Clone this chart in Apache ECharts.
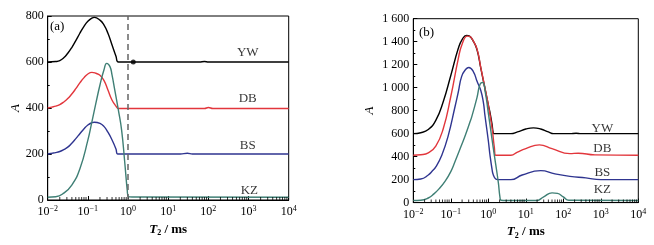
<!DOCTYPE html>
<html>
<head>
<meta charset="utf-8">
<script src="https://cdn.jsdelivr.net/npm/echarts@6/dist/echarts.min.js"></script>
<style>
  html, body { margin: 0; padding: 0; background: #fff; }
  #chart { width: 654px; height: 245px; }
</style>
</head>
<body>
<div id="chart"></div>
<script>
// panel (a): T2 (ms) vs amplitude A
const ywA = [[0.01,600],[0.0158,602],[0.02,606],[0.0251,618],[0.0316,638],[0.0398,663],[0.0501,693],[0.0631,725],[0.0794,754],[0.1,777],[0.126,791],[0.145,794],[0.2,782],[0.251,761],[0.316,725],[0.398,675],[0.501,625],[0.575,600],[1,600],[60,600],[80,602],[100,600],[10000,600]]
const dbA = [[0.01,400],[0.0126,404],[0.0158,408],[0.02,415],[0.0251,426],[0.0316,441],[0.0398,461],[0.0501,484],[0.0631,509],[0.0794,531],[0.1,548],[0.126,555],[0.158,551],[0.2,542],[0.251,520],[0.316,478],[0.398,435],[0.501,408],[0.575,398],[1,398],[80,398],[100,402],[130,398],[10000,398]]
const bsA = [[0.01,200],[0.0126,203],[0.0158,206],[0.02,211],[0.0251,219],[0.0316,230],[0.0398,247],[0.0501,267],[0.0631,288],[0.0794,309],[0.1,326],[0.126,336],[0.145,338],[0.2,333],[0.251,320],[0.316,295],[0.398,262],[0.501,222],[0.55,200],[1,200],[20,200],[30,203],[40,200],[10000,200]]
const kzA = [[0.01,12],[0.0158,14],[0.0251,30],[0.0398,65],[0.0631,135],[0.1,260],[0.126,340],[0.158,420],[0.2,500],[0.251,565],[0.295,594],[0.355,580],[0.398,545],[0.468,478],[0.575,391],[0.692,304],[0.832,160],[0.955,43],[1.02,15],[1.26,13],[10000,12]]
const dotA = [[1.35,600]]
const labelsA = [['YW',955,639],['DB',955,439],['BS',955,235],['KZ',1050,43]]

// panel (b)
const ywB = [[0.01,600],[0.0158,608],[0.0251,636],[0.0398,715],[0.0631,880],[0.1,1106],[0.158,1340],[0.2,1419],[0.263,1455],[0.316,1448],[0.398,1405],[0.501,1330],[0.631,1170],[0.794,1010],[1,850],[1.12,776],[1.26,680],[1.35,607],[1.41,600],[4,600],[6,615],[10,640],[16,650],[25,640],[40,615],[55,600],[150,600],[220,603],[300,600],[10000,600]]
const dbB = [[0.01,412],[0.0158,416],[0.0251,432],[0.0398,491],[0.0631,645],[0.1,923],[0.158,1251],[0.2,1378],[0.275,1448],[0.316,1446],[0.398,1405],[0.501,1335],[0.631,1175],[0.794,1015],[1,850],[1.26,650],[1.45,480],[1.58,412],[4,412],[6,440],[10,470],[23,502],[50,470],[150,426],[250,430],[700,415],[10000,412]]
const bsB = [[0.01,200],[0.0158,205],[0.0251,240],[0.0316,272],[0.0398,310],[0.0575,412],[0.0851,580],[0.129,832],[0.158,960],[0.195,1098],[0.251,1160],[0.302,1176],[0.398,1140],[0.501,1055],[0.631,975],[0.741,870],[0.813,760],[1,540],[1.11,412],[1.26,290],[1.35,244],[1.58,205],[1.78,200],[4,200],[8,240],[25,278],[60,250],[150,228],[400,215],[1000,200],[10000,200]]
const kzB = [[0.01,18],[0.0158,20],[0.0251,40],[0.0355,76],[0.0501,125],[0.0708,187],[0.1,270],[0.129,355],[0.178,470],[0.24,580],[0.316,690],[0.363,748],[0.501,916],[0.603,1030],[0.708,1045],[0.832,960],[1,780],[1.35,480],[1.58,330],[1.86,170],[2.04,50],[2.19,20],[3,18],[19,18],[30,50],[50,85],[70,80],[100,50],[140,20],[10000,18]]
const labelsB = [['YW',1100,641],['DB',1100,468],['BS',1100,258],['KZ',1100,109]]

// log minor ticks (2..9 in each decade)
const minorX = []
for (let k = -2; k < 4; k++) {
  for (let m = 2; m < 10; m++) minorX.push(m * Math.pow(10, k))
}

const FONT = 'Liberation Serif'
const COLORS = { yw: '#000000', db: '#e2363c', bs: '#2f3590', kz: '#3f7f75' }

function supLabel (v) {
  const e = Math.round(Math.log10(v))
  return '10{sup|' + (e < 0 ? '\u2212' + (-e) : e) + '}'
}

function xAxisOf (gridIndex) {
  return {
    type: 'log',
    gridIndex: gridIndex,
    min: 0.01,
    max: 10000,
    logBase: 10,
    axisLine: { lineStyle: { color: '#000', width: 1 } },
    axisTick: { inside: true, length: 4, lineStyle: { color: '#000' } },
    splitLine: { show: false },
    axisLabel: {
      color: '#000', fontFamily: FONT, fontSize: 12, margin: 5,
      formatter: supLabel,
      rich: { sup: { fontSize: 8, verticalAlign: 'top', padding: [0, 0, 6, 0], fontFamily: FONT, color: '#000' } }
    },
    name: '{t|T}{s|2}{m| / ms}',
    nameLocation: 'middle',
    nameGap: 17,
    nameTextStyle: {
      rich: {
        t: { fontFamily: FONT, fontSize: 13, fontWeight: 'bold', fontStyle: 'italic', color: '#000' },
        s: { fontFamily: FONT, fontSize: 8, fontWeight: 'bold', color: '#000', padding: [8, 0, 0, 0] },
        m: { fontFamily: FONT, fontSize: 13, fontWeight: 'bold', color: '#000' }
      }
    }
  }
}

function yAxisOf (gridIndex, max, gap, fmt) {
  return {
    type: 'value',
    gridIndex: gridIndex,
    min: 0,
    max: max,
    interval: 200,
    axisLine: { show: true, lineStyle: { color: '#000', width: 1 } },
    axisTick: { show: true, inside: true, length: 4, lineStyle: { color: '#000' } },
    minorTick: { show: true, splitNumber: 2, length: 2, lineStyle: { color: '#000' } },
    splitLine: { show: false },
    axisLabel: { color: '#000', fontFamily: FONT, fontSize: 12, margin: 4, formatter: fmt },
    name: 'A',
    nameLocation: 'middle',
    nameRotate: 90,
    nameGap: gap,
    nameTextStyle: { fontFamily: FONT, fontSize: 13, fontStyle: 'italic', color: '#000' }
  }
}

function lineSeries (idx, data, color) {
  return {
    type: 'line', xAxisIndex: idx, yAxisIndex: idx, data: data,
    smooth: 0.5, showSymbol: false, symbol: 'none', silent: true,
    lineStyle: { color: color, width: 1.4 }
  }
}

function nameSeries (idx, labels) {
  return {
    type: 'scatter', xAxisIndex: idx, yAxisIndex: idx, symbolSize: 0, silent: true,
    data: labels.map(l => ({ value: [l[1], l[2]], name: l[0] })),
    label: { show: true, position: 'inside', formatter: '{b}', color: '#000', fontFamily: FONT, fontSize: 13 }
  }
}

function minorTickSeries (idx) {
  return {
    type: 'scatter', xAxisIndex: idx, yAxisIndex: idx, silent: true,
    symbol: 'rect', symbolSize: [1, 3], symbolOffset: [0, -1.5],
    itemStyle: { color: '#000' },
    data: minorX.map(v => [v, 0]),
    clip: false, z: 5
  }
}

const chart = echarts.init(document.getElementById('chart'), null, { renderer: 'canvas' })
chart.setOption({
  animation: false,
  backgroundColor: '#fff',
  grid: [
    { left: 47.7, top: 16, width: 241, height: 184, show: true, borderColor: '#000', borderWidth: 1, backgroundColor: 'transparent' },
    { left: 413.3, top: 18.7, width: 225, height: 190.3, show: true, borderColor: '#000', borderWidth: 1, backgroundColor: 'transparent' }
  ],
  xAxis: [xAxisOf(0), xAxisOf(1)],
  yAxis: [
    yAxisOf(0, 800, 26, v => String(v)),
    yAxisOf(1, 1600, 37, v => v >= 1000 ? Math.floor(v / 1000) + ' ' + String(v % 1000).padStart(3, '0') : String(v))
  ],
  graphic: [
    { type: 'text', left: 50, top: 20, style: { text: '(a)', font: '13px "Liberation Serif"', fill: '#000' } },
    { type: 'text', left: 419, top: 26, style: { text: '(b)', font: '13px "Liberation Serif"', fill: '#000' } }
  ],
  series: [
    lineSeries(0, ywA, COLORS.yw),
    lineSeries(0, dbA, COLORS.db),
    lineSeries(0, bsA, COLORS.bs),
    Object.assign(lineSeries(0, kzA, COLORS.kz), {
      markLine: {
        silent: true, symbol: 'none', label: { show: false },
        lineStyle: { color: '#666', type: [6, 4], width: 1.5 },
        data: [{ xAxis: 1 }]
      }
    }),
    {
      type: 'scatter', xAxisIndex: 0, yAxisIndex: 0, data: dotA, silent: true,
      symbol: 'circle', symbolSize: 5, itemStyle: { color: '#000' }
    },
    nameSeries(0, labelsA),
    minorTickSeries(0),
    lineSeries(1, ywB, COLORS.yw),
    lineSeries(1, dbB, COLORS.db),
    lineSeries(1, bsB, COLORS.bs),
    lineSeries(1, kzB, COLORS.kz),
    nameSeries(1, labelsB),
    minorTickSeries(1)
  ]
})
</script>
</body>
</html>
